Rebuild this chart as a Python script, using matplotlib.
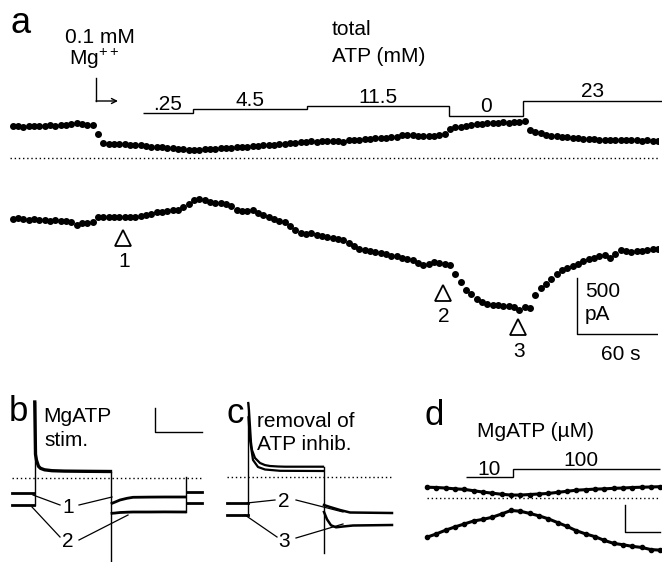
import numpy as np
import matplotlib
matplotlib.use("Agg")
import matplotlib.pyplot as plt

plt.rcParams['font.family'] = ['Liberation Sans', 'DejaVu Sans']
plt.rcParams['mathtext.fontset'] = 'custom'
plt.rcParams['mathtext.rm'] = 'Liberation Sans'

# ---------------- panel a : slow time course (s, pA) ----------------
a_time = np.arange(2, 487, 4)
a_upper = [278, 282, 276, 283, 280, 284, 280, 286, 283, 288, 290, 296, 308, 296, 290, 292,
           210, 128, 126, 124, 120, 122, 116, 112, 110, 104, 100, 96, 94, 88, 85, 80,
           76, 66, 72, 74, 78, 80, 82, 85, 88, 90, 94, 96, 100, 104, 106, 110,
           112, 118, 122, 124, 128, 132, 136, 140, 146, 142, 148, 150, 146, 152, 140, 160,
           158, 162, 165, 170, 172, 175, 178, 182, 186, 198, 205, 200, 196, 194, 192, 196,
           198, 210, 258, 270, 276, 282, 290, 296, 300, 304, 306, 310, 312, 310, 314, 316,
           322, 250, 232, 215, 205, 196, 190, 186, 180, 176, 172, 170, 166, 165, 162, 160,
           158, 160, 156, 155, 158, 154, 152, 154, 152, 150]
a_lower = [8, 20, 10, 2, 5, -2, 0, -8, 4, -5, -12, -20, -44, -30, -25, -18,
           24, 28, 26, 25, 24, 26, 28, 30, 34, 48, 56, 66, 72, 76, 84, 92,
           110, 140, 176, 184, 178, 160, 150, 152, 140, 124, 92, 78, 80, 84, 60, 40,
           28, 10, -5, -20, -50, -90, -115, -120, -118, -130, -140, -150, -162, -168, -175, -200,
           -225, -250, -262, -270, -282, -290, -300, -312, -320, -330, -340, -355, -380, -395, -390, -370,
           -380, -385, -392, -470, -545, -615, -650, -690, -720, -735, -742, -748, -750, -758, -765, -790,
           -765, -770, -660, -600, -565, -520, -470, -440, -420, -400, -385, -360, -345, -330, -315, -305,
           -330, -300, -265, -270, -285, -275, -270, -265, -255, -250]
atp_labels = ['.25', '4.5', '11.5', '0', '23']
atp_edges = [100, 137, 223, 329, 385, 489]
atp_monitor = [24, 59, 85, 0, 134]      # solution monitor, display units
mark_labels = ['1', '2', '3']

# ---------------- panel b : MgATP stim. (ms, pA) ----------------
b_pre_t = [-45, -1]
b_pre = {'1': [-150, -150], '2': [-267, -267]}
b_on_t = [0.5, 2, 4, 8, 12, 20, 35, 60, 100, 152]
b_on = [763, 240, 180, 120, 100, 85, 76, 72, 70, 68]
b_mid_t = [155, 160, 171, 185, 197, 230, 260, 301]
b_mid = {'1': [-250, -240, -217, -200, -190, -188, -187, -187],
         '2': [-350, -348, -342, -339, -337, -337, -336, -337]}
b_post_t = [304, 335]
b_post = {'1': [-134, -134], '2': [-247, -247]}

# ---------------- panel c : removal of ATP inhib. (ms, pA) ----------------
c_pre_t = [-42, -1]
c_pre = {'2': [-260, -260], '3': [-377, -377]}
c_on_t = {'a': [0.5, 2, 6, 8, 14, 24, 34, 44, 60, 74, 150],
          'b': [1, 4, 10, 20, 34, 64, 150]}
c_on = {'a': [743, 673, 350, 273, 193, 143, 122, 113, 108, 106, 106],
        'b': [600, 373, 173, 103, 78, 65, 63]}
c_post_t = {'2': [152, 164, 184, 204, 288], '3': [152, 158, 166, 176, 190, 210, 288]}
c_post = {'2': [-277, -297, -327, -352, -357], '3': [-347, -420, -480, -500, -492, -482, -477]}

# ---------------- panel d : MgATP (uM) (s, pA) ----------------
d_time = np.arange(0, 201, 8)
d_upper = [41, 40, 38, 35, 33, 28, 23, 19, 15, 12, 12, 14, 16, 18, 22, 26,
           30, 32, 34, 35, 37, 38, 40, 41, 42, 43]
d_lower = [-144, -132, -118, -106, -95, -84, -78, -70, -58, -45, -48, -56, -65, -76, -90, -104,
           -120, -132, -142, -156, -167, -172, -178, -182, -190, -192]
d_conc_labels = ['10', '100']
d_edges = [33, 74, 200]
d_monitor = [78, 108]

W, H = 662, 562
fig = plt.figure(figsize=(W / 100, H / 100), dpi=100)


def panel(left, top, right, bottom, xlim, ylim):
    ax = fig.add_axes([left / W, 1 - bottom / H, (right - left) / W, (bottom - top) / H])
    ax.set_xlim(xlim)
    ax.set_ylim(ylim)
    ax.axis('off')
    return ax


FS = 15
dot = dict(ls='none', marker='o', ms=4, color='k')
dotted = dict(ls=(0, (1, 2)), lw=1, color='k')

# panel a, 0.75 s per px and 500 pA per 57 px
ka = 500 / 57
ax = panel(10, 0, 658, 380, (0, 486), (-(380 - 158) * ka, 158 * ka))
lower_offset = -62 * ka
ax.plot(a_time, a_upper, **dot)
ax.plot(a_time, np.array(a_lower) + lower_offset, **dot)
ax.plot([0, 486], [0, 0], **dotted)
ax.stairs(np.array(atp_monitor) + 42 * ka, atp_edges, baseline=None, color='k', lw=1, clip_on=False)
for lab, lo, hi, lev in zip(atp_labels, atp_edges[:-1], atp_edges[1:], atp_monitor):
    ax.annotate(lab, ((lo + hi) / 2, lev + 42 * ka), xytext=(0, 2.6), textcoords='offset points',
                ha='center', va='baseline', fontsize=FS)
# scale bar 500 pA / 60 s
ax.plot([425, 425, 485], [-120 * ka, -176 * ka, -176 * ka], color='k', lw=1)

# panel b, 2 ms per px and 10 pA per px
bx = panel(0, 390, 215, 562, (-69, 361), (-837, 883))
bx.plot([-45, 335], [0, 0], **dotted)
for k in ['1', '2']:
    bx.plot(b_pre_t, b_pre[k], color='k', lw=2)
    bx.plot(b_mid_t, b_mid[k], color='k', lw=2)
    bx.plot(b_post_t, b_post[k], color='k', lw=2)
bx.plot([0, 0], [b_pre['2'][-1], b_on[0]], color='k', lw=1)
bx.plot(b_on_t, b_on, color='k', lw=2.4)
bx.plot([153, 153], [b_on[-1], -900], color='k', lw=1)
bx.plot([303, 303], [b_mid['2'][-1], 16], color='k', lw=1)
bx.plot([241, 241, 335], [703, 463, 463], color='k', lw=1)

# panel c, same scale as b
cx = panel(215, 390, 420, 562, (-66, 344), (-847, 873))
cx.plot([-42, 288], [0, 0], **dotted)
for k in ['2', '3']:
    cx.plot(c_pre_t, c_pre[k], color='k', lw=2)
    cx.plot(c_post_t[k], c_post[k], color='k', lw=1.8)
cx.plot([0, 0], [c_pre['3'][-1], 743], color='k', lw=1)
for k in ['a', 'b']:
    cx.plot(c_on_t[k], c_on[k], color='k', lw=1.6)
cx.plot([151, 151], [106, -757], color='k', lw=1)

# panel d, 30 s per 35 px and 100 pA per 27 px
kt, ki = 30 / 35, 100 / 27
dx = panel(420, 390, 662, 562, (-7 * kt, 235 * kt), ((498.3 - 562) * ki, (498.3 - 390) * ki))
dx.plot([0, 200], [0, 0], **dotted)
dx.plot(d_time, d_upper, color='k', lw=2.2, marker='o', ms=3)
dx.plot(d_time, d_lower, color='k', lw=2.2, marker='o', ms=3)
dx.stairs(d_monitor, d_edges, baseline=None, color='k', lw=1)
dx.text(53, d_monitor[0] + 10, d_conc_labels[0], ha='center', va='baseline', fontsize=FS)
dx.text(132, d_monitor[1] + 10, d_conc_labels[1], ha='center', va='baseline', fontsize=FS)
dx.plot([170, 170, 200], [-24, -124, -124], color='k', lw=1)

# annotations in pixel space
ov = fig.add_axes([0, 0, 1, 1])
ov.set_xlim(0, W)
ov.set_ylim(H, 0)
ov.axis('off')
ov.patch.set_alpha(0)


def txt(x, y, s, size=FS, ha='left'):
    ov.text(x, y, s, fontsize=size, ha=ha, va='baseline')


txt(11, 33, 'a', 26)
txt(100, 43, '0.1 mM', ha='center')
txt(94, 65, r'Mg$^{++}$', ha='center')
ov.plot([96, 96], [78, 101], color='k', lw=1)
ov.annotate('', xy=(118, 101), xytext=(96, 101),
            arrowprops=dict(arrowstyle='->', lw=1, shrinkA=0, shrinkB=0, mutation_scale=9))
txt(332, 35, 'total')
txt(332, 62, 'ATP (mM)')
for (tx, ty, ny), lab in zip([(123, 238, 267), (443, 293, 322), (518, 327, 357)], mark_labels):
    ov.plot(tx, ty, marker='^', mfc='white', mec='k', ms=11, mew=1.3)
    txt(tx + 1, ny, lab, ha='center')
txt(585, 297, '500')
txt(585, 320, 'pA')
txt(621, 360, '60 s', ha='center')

txt(9, 421, 'b', 25)
txt(43, 422, 'MgATP')
txt(44, 446, 'stim.')
txt(68, 513, '1', ha='center')
txt(68, 547, '2', ha='center')
for seg in [[(33, 495), (60, 505)], [(79, 505), (112, 497)],
            [(32, 507), (60, 537)], [(79, 540), (128, 515)]]:
    ov.plot(*zip(*seg), color='k', lw=0.9)

txt(226, 423, 'c', 25)
txt(257, 427, 'removal of')
txt(257, 450, 'ATP inhib.')
txt(284, 507, '2', ha='center')
txt(284, 547, '3', ha='center')
for seg in [[(247, 503), (275, 500)], [(296, 500), (343, 512)],
            [(245, 515), (277, 537)], [(296, 538), (343, 524)]]:
    ov.plot(*zip(*seg), color='k', lw=0.9)

txt(424, 425, 'd', 25)
txt(477, 437, 'MgATP (µM)')

fig.savefig('out.png', dpi=100)
